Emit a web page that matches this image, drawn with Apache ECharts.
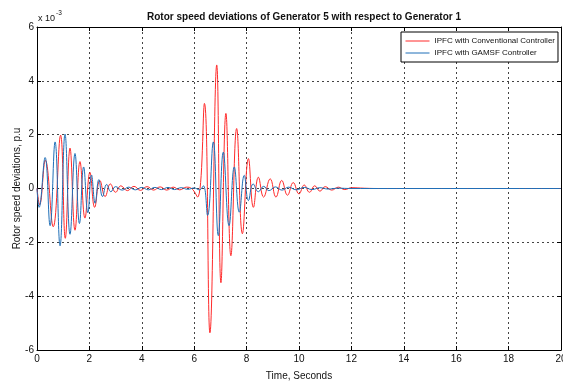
<!DOCTYPE html>
<html>
<head>
<meta charset="utf-8">
<script src="https://cdn.jsdelivr.net/npm/echarts@6/dist/echarts.min.js"></script>
<style>
html,body{margin:0;padding:0;background:#fff;}
#c{width:563px;height:382px;}
</style>
</head>
<body>
<div id="c"></div>
<script>
// Values in units of 1e-3 p.u.
var redTime = [0, 0.1, 0.32, 0.62, 0.9, 1.08, 1.26, 1.45, 1.64, 1.83, 2.02, 2.2, 2.4, 2.6, 2.8, 3.0, 3.2, 3.45, 3.7, 3.95, 4.2, 4.45, 4.7, 4.95, 5.2, 5.45, 5.7, 5.9, 6.13, 6.39, 6.6, 6.86, 7.02, 7.21, 7.4, 7.62, 7.84, 8.07, 8.26, 8.45, 8.65, 8.9, 9.12, 9.34, 9.56, 9.78, 10.0, 10.2, 10.4, 10.6, 10.8, 11.0, 11.25, 11.5, 11.75, 12.0, 12.5, 13, 20];
var redValue = [0, -0.6, 1.05, -1.42, 1.98, -1.85, 1.5, -1.55, 1.0, -1.1, 0.6, -0.7, 0.3, -0.3, 0.17, -0.14, 0.1, -0.08, 0.08, -0.07, 0.07, -0.06, 0.06, -0.06, 0.05, -0.05, 0.05, 0, -0.32, 3.16, -5.36, 4.59, -3.5, 2.79, -2.5, 2.23, -1.68, 1.11, -0.7, 0.42, -0.32, 0.36, -0.32, 0.3, -0.25, 0.22, -0.2, 0.13, -0.14, 0.1, -0.1, 0.07, -0.06, 0.05, -0.04, 0.03, 0.01, 0, 0];
var blueTime = [0, 0.08, 0.31, 0.5, 0.69, 0.88, 1.07, 1.26, 1.45, 1.62, 1.78, 1.94, 2.08, 2.22, 2.36, 2.5, 2.66, 2.82, 3.0, 3.25, 3.5, 3.75, 4.0, 4.25, 4.5, 4.75, 5.0, 5.25, 5.5, 5.75, 6.0, 6.2, 6.35, 6.51, 6.73, 6.92, 7.11, 7.33, 7.53, 7.72, 7.91, 8.07, 8.25, 8.45, 8.65, 8.85, 9.1, 9.35, 9.6, 9.9, 10.2, 10.5, 10.8, 11.1, 11.5, 12, 20];
var blueValue = [0, -0.7, 1.15, -1.38, 1.73, -2.13, 2.02, -1.7, 1.3, -1.3, 0.8, -0.9, 0.5, -0.55, 0.33, -0.3, 0.15, -0.12, 0.07, -0.06, 0.05, -0.05, 0.04, -0.05, 0.04, -0.04, 0.04, -0.04, 0.03, -0.03, 0.02, -0.05, 0.1, -1.0, 1.73, -1.75, 1.35, -1.38, 0.8, -0.88, 0.49, -0.45, 0.17, -0.12, 0.08, -0.08, 0.06, -0.06, 0.05, -0.05, 0.04, -0.04, 0.03, -0.02, 0.01, 0, 0];
var seriesNames = ['IPFC with Conventional Controller', 'IPFC with GAMSF Controller'];
var xTicks = [0, 2, 4, 6, 8, 10, 12, 14, 16, 18, 20];
var yTicks = [-6, -4, -2, 0, 2, 4, 6];

function pairs(t, v) { return t.map(function (x, i) { return [x, v[i]]; }); }

var FONT = '"Liberation Sans", Arial, sans-serif';
var chart = echarts.init(document.getElementById('c'), null, {renderer: 'canvas'});
var splitStyle = {show: true, lineStyle: {color: '#444', type: [2, 3], width: 1}};

chart.setOption({
  animation: false,
  backgroundColor: '#fff',
  title: {
    text: 'Rotor speed deviations of Generator 5 with respect to Generator 1',
    left: 299, textAlign: 'center', top: 7,
    textStyle: {fontFamily: FONT, fontSize: 10, fontWeight: 'bold', color: '#111'}
  },
  legend: {
    left: 401, top: 32, orient: 'vertical',
    itemWidth: 24, itemHeight: 9, itemGap: 4,
    padding: [5, 3, 5, 4],
    backgroundColor: '#fff', borderColor: '#000', borderWidth: 1,
    itemStyle: {opacity: 0},
    lineStyle: {width: 1},
    textStyle: {fontFamily: FONT, fontSize: 8, color: '#111'},
    data: seriesNames
  },
  grid: {left: 37, right: 2, top: 27, bottom: 32, show: false, containLabel: false, outerBoundsMode: 'none'},
  xAxis: [{
    type: 'value', min: 0, max: 20, interval: 2,
    name: 'Time, Seconds', nameLocation: 'middle', nameGap: 21, nameMoveOverlap: false,
    nameTextStyle: {fontFamily: FONT, fontSize: 10, color: '#111'},
    axisLine: {show: true, onZero: false, lineStyle: {color: '#000', width: 1}},
    axisTick: {show: true, inside: true, length: 4, lineStyle: {color: '#000'}},
    axisLabel: {fontFamily: FONT, fontSize: 10, color: '#111', margin: 4, formatter: function (v) { return xTicks.indexOf(v) >= 0 ? String(v) : ''; }},
    splitLine: splitStyle
  }, {
    type: 'value', min: 0, max: 20, interval: 2, position: 'top',
    axisLine: {show: true, onZero: false, lineStyle: {color: '#000', width: 1}},
    axisTick: {show: true, inside: true, length: 4, lineStyle: {color: '#000'}},
    axisLabel: {show: false}, splitLine: {show: false}
  }],
  yAxis: [{
    type: 'value', min: -6, max: 6, interval: 2,
    name: 'Rotor speed deviations, p.u', nameLocation: 'middle', nameGap: 15, nameMoveOverlap: false,
    nameTextStyle: {fontFamily: FONT, fontSize: 10, color: '#111'},
    axisLine: {show: true, onZero: false, lineStyle: {color: '#000', width: 1}},
    axisTick: {show: true, inside: true, length: 4, lineStyle: {color: '#000'}},
    axisLabel: {fontFamily: FONT, fontSize: 10, color: '#111', margin: 3, formatter: function (v) { return yTicks.indexOf(v) >= 0 ? String(v) : ''; }},
    splitLine: splitStyle
  }, {
    type: 'value', min: -6, max: 6, interval: 2, position: 'right',
    axisLine: {show: true, onZero: false, lineStyle: {color: '#000', width: 1}},
    axisTick: {show: true, inside: true, length: 4, lineStyle: {color: '#000'}},
    axisLabel: {show: false}, splitLine: {show: false}
  }],
  graphic: [{
    type: 'text', left: 38, top: 10,
    style: {
      text: '{a|x 10}{b|-3}',
      rich: {
        a: {fontFamily: FONT, fontSize: 9, fill: '#111', padding: [4, 0, 0, 0]},
        b: {fontFamily: FONT, fontSize: 6.5, fill: '#111', padding: [0, 0, 6, 1]}
      }
    }
  }],
  series: [{
    name: seriesNames[0], type: 'line', data: pairs(redTime, redValue),
    smooth: 0.45, showSymbol: false, symbol: 'none',
    lineStyle: {color: '#ff2b2b', width: 1}, itemStyle: {color: '#ff2b2b'}
  }, {
    name: seriesNames[1], type: 'line', data: pairs(blueTime, blueValue),
    smooth: 0.45, showSymbol: false, symbol: 'none',
    lineStyle: {color: '#1f6fb8', width: 1}, itemStyle: {color: '#1f6fb8'}
  }]
});
</script>
</body>
</html>
